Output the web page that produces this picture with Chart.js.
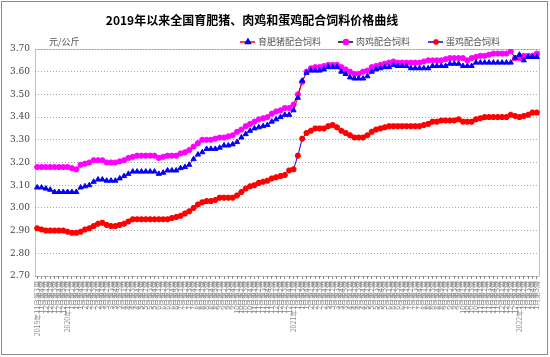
<!DOCTYPE html>
<html><head><meta charset="utf-8">
<script src="https://cdn.jsdelivr.net/npm/chart.js@4.4.1/dist/chart.umd.min.js"></script>
<style>html,body{margin:0;padding:0;background:#fff}#wrap{width:550px;height:357px;position:relative}</style>
</head><body><div id="wrap"><canvas id="c"></canvas></div>
<script>
const chartTitle = "2019年以来全国育肥猪、肉鸡和蛋鸡配合饲料价格曲线";
const unitLabel = "元/公斤";
const seriesNames = ["育肥猪配合饲料", "肉鸡配合饲料", "蛋鸡配合饲料"];
const categories = [
"2019年11月第3周","11月第4周","12月第1周","12月第2周","12月第3周","12月第4周","12月第5周",
"2020年1月第1周","1月第2周","1月第3周","1月第4周",
"2月第1周","2月第2周","2月第3周","2月第4周",
"3月第1周","3月第2周","3月第3周","3月第4周","3月第5周",
"4月第1周","4月第2周","4月第3周","4月第4周",
"5月第1周","5月第2周","5月第3周","5月第4周",
"6月第1周","6月第2周","6月第3周","6月第4周","6月第5周",
"7月第1周","7月第2周","7月第3周","7月第4周",
"8月第1周","8月第2周","8月第3周","8月第4周","8月第5周",
"9月第1周","9月第2周","9月第3周","9月第4周",
"10月第1周","10月第2周","10月第3周","10月第4周",
"11月第1周","11月第2周","11月第3周","11月第4周","11月第5周",
"12月第1周","12月第2周","12月第3周","12月第4周",
"2021年1月第1周","1月第2周","1月第3周","1月第4周",
"2月第1周","2月第2周","2月第3周","2月第4周",
"3月第1周","3月第2周","3月第3周","3月第4周","3月第5周",
"4月第1周","4月第2周","4月第3周","4月第4周",
"5月第1周","5月第2周","5月第3周","5月第4周","5月第5周",
"6月第1周","6月第2周","6月第3周","6月第4周",
"7月第1周","7月第2周","7月第3周","7月第4周",
"8月第1周","8月第2周","8月第3周","8月第4周","8月第5周",
"9月第1周","9月第2周","9月第3周","9月第4周",
"10月第1周","10月第2周","10月第3周","10月第4周",
"11月第1周","11月第2周","11月第3周","11月第4周","11月第5周",
"12月第1周","12月第2周","12月第3周","12月第4周",
"2022年1月第1周","1月第2周","1月第3周","1月第4周","1月第5周"
];
const pigFeed = [
3.09,3.09,3.085,3.08,3.07,3.07,3.07,3.07,3.07,3.07,
3.09,3.095,3.10,3.115,3.125,3.125,3.12,3.12,3.12,3.13,
3.14,3.15,3.16,3.16,3.16,3.16,3.16,3.16,3.15,3.155,
3.165,3.165,3.165,3.175,3.18,3.19,3.215,3.235,3.245,3.26,
3.26,3.26,3.265,3.275,3.275,3.28,3.29,3.31,3.325,3.34,
3.35,3.355,3.36,3.365,3.38,3.39,3.40,3.41,3.41,3.43,
3.485,3.56,3.595,3.605,3.605,3.605,3.61,3.62,3.62,3.62,
3.60,3.59,3.575,3.57,3.57,3.57,3.58,3.60,3.61,3.615,
3.62,3.62,3.63,3.625,3.625,3.625,3.615,3.615,3.615,3.615,
3.615,3.625,3.625,3.625,3.625,3.635,3.635,3.635,3.625,3.625,
3.625,3.64,3.64,3.64,3.64,3.64,3.64,3.64,3.64,3.64,
3.66,3.675,3.65,3.665,3.665,3.665
];
const broilerFeed = [
3.18,3.18,3.18,3.18,3.18,3.18,3.18,3.18,3.175,3.17,
3.19,3.195,3.20,3.21,3.21,3.21,3.20,3.20,3.20,3.205,
3.21,3.22,3.225,3.23,3.23,3.23,3.23,3.23,3.22,3.225,
3.23,3.23,3.23,3.24,3.245,3.255,3.27,3.285,3.30,3.30,
3.30,3.305,3.31,3.31,3.315,3.32,3.335,3.345,3.36,3.37,
3.38,3.39,3.395,3.40,3.415,3.425,3.43,3.44,3.44,3.455,
3.50,3.555,3.60,3.615,3.62,3.62,3.625,3.63,3.63,3.63,
3.62,3.61,3.60,3.59,3.59,3.60,3.605,3.62,3.625,3.63,
3.635,3.64,3.645,3.64,3.64,3.64,3.64,3.64,3.64,3.645,
3.65,3.65,3.65,3.65,3.655,3.66,3.66,3.66,3.66,3.65,
3.66,3.665,3.67,3.67,3.675,3.68,3.68,3.68,3.68,3.69,
3.66,3.66,3.67,3.67,3.67,3.68
];
const layerFeed = [
2.91,2.905,2.90,2.90,2.90,2.90,2.90,2.895,2.89,2.89,
2.895,2.905,2.91,2.92,2.93,2.935,2.925,2.92,2.92,2.925,
2.93,2.94,2.95,2.95,2.95,2.95,2.95,2.95,2.95,2.95,
2.95,2.955,2.96,2.965,2.975,2.985,3.00,3.015,3.025,3.03,
3.03,3.035,3.045,3.045,3.045,3.045,3.055,3.07,3.085,3.095,
3.10,3.11,3.115,3.12,3.13,3.135,3.14,3.145,3.165,3.17,
3.23,3.305,3.33,3.34,3.35,3.35,3.35,3.36,3.365,3.355,
3.34,3.33,3.32,3.31,3.31,3.31,3.32,3.335,3.345,3.35,
3.355,3.36,3.36,3.36,3.36,3.36,3.36,3.36,3.36,3.365,
3.37,3.38,3.38,3.385,3.385,3.385,3.385,3.39,3.38,3.38,
3.38,3.39,3.395,3.40,3.40,3.40,3.40,3.40,3.40,3.41,
3.405,3.40,3.405,3.41,3.42,3.42
];
const yTickValues = [2.70,2.75,2.80,2.85,2.90,2.95,3.00,3.05,3.10,3.15,3.20,3.25,3.30,3.35,3.40,3.45,3.50,3.55,3.60,3.65,3.70];

const lineColors = ['#FF0000', '#000000', '#0000FF'];
const markerColors = ['#0000FF', '#FF00FF', '#FF0000'];
const markerStyles = ['triangle', 'circle', 'star'];
const markerRadius = [3, 2.6, 3];

const decor = {
  id: 'decor',
  beforeDatasetsDraw(chart) {
    const {ctx, chartArea: a} = chart;
    ctx.save();
    ctx.strokeStyle = '#888';
    ctx.lineWidth = 1;
    ctx.setLineDash([1, 1]);
    ctx.strokeRect(Math.round(a.left) + 0.5, Math.round(a.top) + 0.5, Math.round(a.right - a.left), Math.round(a.bottom - a.top));
    ctx.restore();
  },
  afterDraw(chart) {
    const ctx = chart.ctx;
    ctx.save();
    ctx.strokeStyle = '#8a8a8a';
    ctx.lineWidth = 1;
    ctx.strokeRect(1.5, 1.5, 546, 353);
    ctx.fillStyle = '#000';
    ctx.font = 'bold 12px "Noto Sans CJK SC"';
    ctx.textAlign = 'center';
    ctx.textBaseline = 'middle';
    ctx.fillText(chartTitle, 252, 20);
    ctx.font = '9px "Noto Sans CJK SC"';
    ctx.fillStyle = '#555';
    ctx.textAlign = 'left';
    ctx.fillText(unitLabel, 49, 42);
    const legendX = [240, 338, 428];
    for (let i = 0; i < 3; i++) {
      const x = legendX[i], y = 42;
      ctx.setLineDash([]);
      ctx.strokeStyle = lineColors[i];
      ctx.lineWidth = 1.5;
      ctx.beginPath(); ctx.moveTo(x, y); ctx.lineTo(x + 15, y); ctx.stroke();
      ctx.fillStyle = markerColors[i];
      ctx.strokeStyle = markerColors[i];
      Chart.helpers.drawPoint(ctx, {pointStyle: markerStyles[i], radius: markerRadius[i], borderWidth: i === 2 ? 2 : 1, rotation: 0}, x + 8, y);
      ctx.fillStyle = '#555';
      ctx.font = '9px "Noto Sans CJK SC"';
      ctx.textBaseline = 'middle';
      ctx.fillText(seriesNames[i], x + 18, y);
    }
    ctx.restore();
  }
};

const allSeries = [pigFeed, broilerFeed, layerFeed];
new Chart(document.getElementById('c'), {
  type: 'line',
  data: {
    labels: categories,
    datasets: allSeries.map((d, i) => ({
      label: seriesNames[i],
      data: d,
      borderColor: lineColors[i],
      borderWidth: 1,
      pointStyle: markerStyles[i],
      pointRadius: markerRadius[i],
      pointBackgroundColor: markerColors[i],
      pointBorderColor: markerColors[i],
      pointBorderWidth: i === 2 ? 2 : 1,
      tension: 0,
      fill: false
    }))
  },
  options: {
    responsive: true,
    maintainAspectRatio: false,
    animation: false,
    devicePixelRatio: 1,
    layout: {padding: {left: 0, right: 11, top: 49, bottom: 0}},
    plugins: {legend: {display: false}, tooltip: {enabled: false}, title: {display: false}},
    scales: {
      x: {
        type: 'category',
        offset: true,
        grid: {display: true, drawOnChartArea: false, drawTicks: true, tickLength: 3, color: '#888', offset: false},
        border: {display: false},
        ticks: {autoSkip: false, maxRotation: 90, minRotation: 90, padding: 2, color: '#888',
                font: {size: 7, family: '"Noto Sans CJK SC"'}},
        afterFit(s) { s.height = 81; }
      },
      y: {
        min: 2.70, max: 3.70,
        afterBuildTicks(s) { s.ticks = yTickValues.map(v => ({value: v})); },
        ticks: {callback: v => Number(v).toFixed(2), color: '#444', padding: 5,
                font: {size: 9, family: '"DejaVu Serif"'}},
        grid: {color: '#aaa', lineWidth: 1, drawTicks: false},
        border: {display: false, dash: [1, 2]},
        afterFit(s) { s.width = 35; }
      }
    }
  },
  plugins: [decor]
});
</script>
</body></html>
